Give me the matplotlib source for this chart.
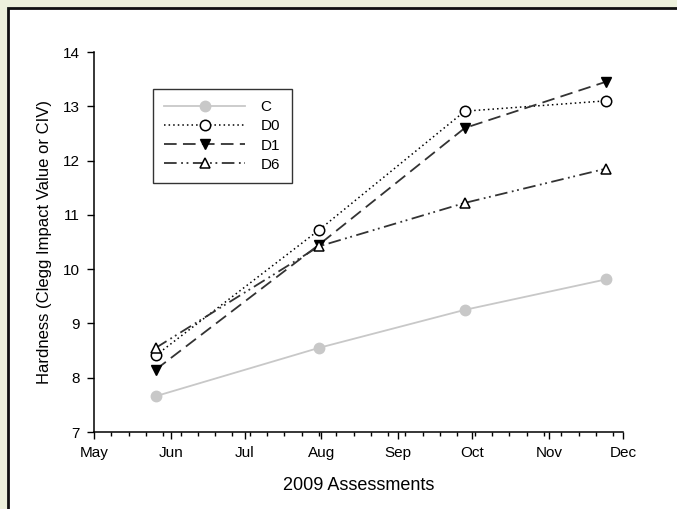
import datetime as dt
import matplotlib
matplotlib.use("Agg")
import matplotlib.pyplot as plt
import matplotlib.dates as mdates
from matplotlib.patches import Rectangle

plt.rcParams['font.family'] = ['Liberation Sans', 'DejaVu Sans']

# assessment dates (2009) and hardness values
dates = [dt.date(2009, 5, 26), dt.date(2009, 7, 31),
         dt.date(2009, 9, 28), dt.date(2009, 11, 24)]
c_vals = [7.66, 8.55, 9.25, 9.81]
d0_vals = [8.41, 10.72, 12.91, 13.10]
d1_vals = [8.15, 10.45, 12.60, 13.45]
d6_vals = [8.55, 10.42, 11.22, 11.85]
labels = ["C", "D0", "D1", "D6"]

fig = plt.figure(figsize=(6.77, 5.09), dpi=100)
fig.patch.set_facecolor("#edf1dc")
# white panel with dark frame (only top/left edges visible)
fig.patches.append(Rectangle((8 / 677, -0.1), 1.1, (501 / 509) + 0.1,
                             transform=fig.transFigure, facecolor="white",
                             edgecolor="#111111", linewidth=2, zorder=-10))

ax = fig.add_axes([94 / 677, 1 - 432 / 509, (623 - 94) / 677, (432 - 52) / 509])
ax.set_zorder(5)
ax.set_facecolor("none")

ax.plot(dates, c_vals, color="#c8c8c8", lw=1.3, marker="o", ms=7.5,
        mfc="#c8c8c8", mec="#c8c8c8", label=labels[0])
ax.plot(dates, d0_vals, color="black", lw=1.1, ls=(0, (1, 2)), marker="o", ms=7.5,
        mfc="white", mec="black", mew=1.1, label=labels[1])
ax.plot(dates, d1_vals, color="#333333", lw=1.3, ls=(0, (7, 3.5)), marker="v", ms=7.5,
        mfc="black", mec="black", label=labels[2])
ax.plot(dates, d6_vals, color="#333333", lw=1.3, ls=(0, (7, 2.5, 1, 2, 1, 2.5)),
        marker="^", ms=7.5, mfc="white", mec="black", mew=1.1, label=labels[3])

ax.set_xlim(dt.date(2009, 5, 1), dt.date(2009, 12, 1))
ax.set_ylim(7, 14)
ax.xaxis.set_major_locator(mdates.MonthLocator())
ax.xaxis.set_major_formatter(mdates.DateFormatter("%b"))
ax.xaxis.set_minor_locator(mdates.WeekdayLocator(byweekday=mdates.FR))
ax.set_yticks(range(7, 15))

for s in ["top", "right"]:
    ax.spines[s].set_visible(False)
for s in ["left", "bottom"]:
    ax.spines[s].set_linewidth(1.1)
ax.tick_params(axis="both", which="major", direction="out", length=5, width=1.0,
               labelsize=11, pad=5)
ax.tick_params(axis="x", which="minor", direction="out", length=3, width=1.0)

ax.set_xlabel("2009 Assessments", fontsize=13, labelpad=12)
ax.set_ylabel("Hardness (Clegg Impact Value or CIV)", fontsize=12, labelpad=8)

leg = ax.legend(loc="upper left", bbox_to_anchor=((153 - 94) / 529, (432 - 89) / 380),
                frameon=True, fancybox=False, edgecolor="black", fontsize=11,
                handlelength=5.3, handletextpad=1.0, labelspacing=0.33,
                borderpad=0.75, borderaxespad=0)
leg.get_frame().set_linewidth(1.0)

fig.savefig("out.png", dpi=100, facecolor=fig.get_facecolor())
